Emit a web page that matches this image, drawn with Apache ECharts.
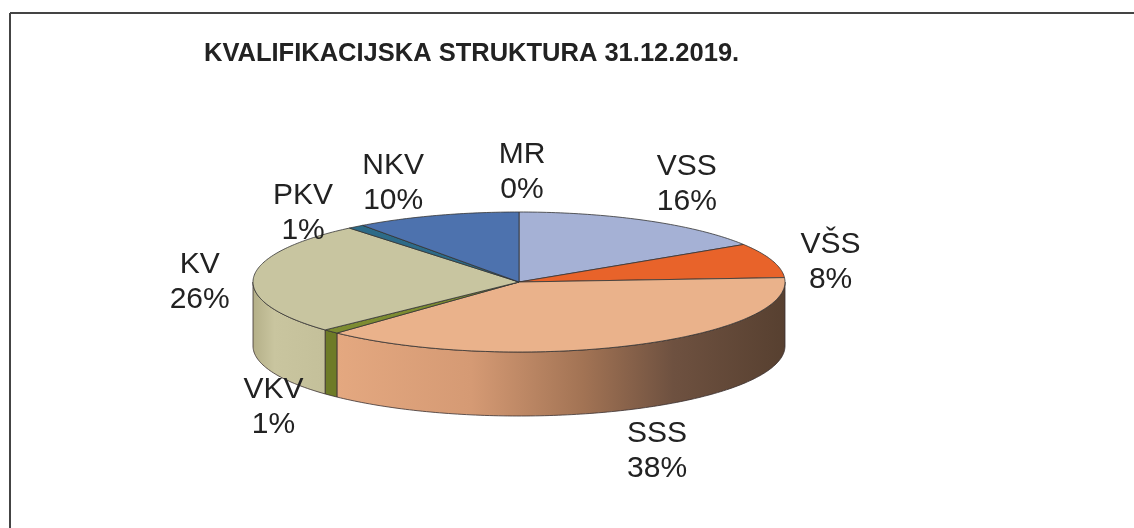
<!DOCTYPE html>
<html>
<head>
<meta charset="utf-8">
<script src="https://cdn.jsdelivr.net/npm/echarts@6/dist/echarts.min.js"></script>
<style>
html,body{margin:0;padding:0;background:#fff;}
#chart{width:1134px;height:528px;}
</style>
</head>
<body>
<div id="chart"></div>
<script>
// ---- data ----
const titleText = 'KVALIFIKACIJSKA STRUKTURA 31.12.2019.';
const categories = ['MR', 'VSS', 'VŠS', 'SSS', 'VKV', 'KV', 'PKV', 'NKV'];
const values = [0, 16, 8, 38, 1, 26, 1, 10];

// ---- styles ----
const topColors = {
  'MR': '#2B4775', 'VSS': '#A5B1D5', 'VŠS': '#E8632A', 'SSS': '#EAB28B',
  'VKV': '#7D8C31', 'KV': '#C8C5A0', 'PKV': '#2D6B88', 'NKV': '#4D72AE'
};
const sideColors = {
  'MR': '#22395E', 'VSS': '#7F8AAA', 'VŠS': '#B54C1F',
  'SSS': {type: 'linear', x: 0, y: 0, x2: 1, y2: 0, colorStops: [
    {offset: 0, color: '#E4A880'}, {offset: 0.3, color: '#D59A74'},
    {offset: 0.55, color: '#A27354'}, {offset: 0.75, color: '#6E5140'},
    {offset: 1, color: '#574030'}]},
  'VKV': '#6E7B27',
  'KV': {type: 'linear', x: 0, y: 0, x2: 1, y2: 0, colorStops: [
    {offset: 0, color: '#B4AF88'}, {offset: 0.3, color: '#C9C59F'},
    {offset: 1, color: '#C4C09A'}]},
  'PKV': '#24566D', 'NKV': '#3D5B8B'
};
const labelNudge = {
  'MR': [3, 5], 'VSS': [6, 3], 'VŠS': [-8, 16], 'SSS': [-5, 1],
  'VKV': [-8, -20], 'KV': [16, 7], 'PKV': [-10, 22], 'NKV': [-22, 11]
};
const geo = {cx: 519, cy: 282, rx: 266, ry: 70, depth: 64, gx: 70, gy: 45};

const total = values.reduce((a, b) => a + b, 0);
const cum = [];
values.reduce((acc, v, i) => { cum[i] = acc; return acc + v; }, 0);

function pt(t, dy) {
  return [geo.cx + geo.rx * Math.sin(t), geo.cy - geo.ry * Math.cos(t) + (dy || 0)];
}
function arc(a0, a1, dy) {
  const pts = [];
  const n = Math.max(1, Math.ceil(Math.abs(a1 - a0) / (Math.PI / 180)));
  for (let k = 0; k <= n; k++) pts.push(pt(a0 + (a1 - a0) * k / n, dy));
  return pts;
}

function renderItem(params, api) {
  const i = params.dataIndex;
  const name = categories[i];
  const v = api.value(1);
  const a0 = cum[i] / total * Math.PI * 2;
  const a1 = a0 + v / total * Math.PI * 2;
  const children = [];
  // side wall (front half only)
  const s0 = Math.max(a0, Math.PI / 2), s1 = Math.min(a1, Math.PI * 1.5);
  if (s1 > s0) {
    const upper = arc(s0, s1, 0);
    const lower = arc(s0, s1, geo.depth).reverse();
    children.push({
      type: 'polygon',
      shape: {points: upper.concat(lower)},
      style: {fill: sideColors[name], stroke: '#3a3030', lineWidth: 0.8}
    });
  }
  // top surface
  const topPts = [[geo.cx, geo.cy]].concat(arc(a0, a1, 0));
  children.push({
    type: 'polygon',
    shape: {points: topPts},
    style: {fill: topColors[name], stroke: v === 0 ? topColors[name] : '#333', lineWidth: v === 0 ? 1.6 : 0.8}
  });
  // label
  const m = (a0 + a1) / 2;
  const front = Math.cos(m) < 0;
  const nd = labelNudge[name] || [0, 0];
  const lx = geo.cx + (geo.rx + geo.gx) * Math.sin(m) + nd[0];
  const ly = geo.cy - (geo.ry + geo.gy) * Math.cos(m) + (front ? geo.depth : 0) + nd[1];
  children.push({
    type: 'text',
    z2: 10,
    style: {
      text: name + '\n' + Math.round(v / total * 100) + '%',
      x: lx, y: ly, align: 'center', verticalAlign: 'middle',
      fontSize: 30, lineHeight: 35, fontFamily: 'Liberation Sans, Arial, sans-serif',
      fill: '#222'
    }
  });
  return {type: 'group', children: children};
}

const chart = echarts.init(document.getElementById('chart'), null, {renderer: 'canvas'});
chart.setOption({
  animation: false,
  backgroundColor: '#fff',
  title: {
    text: titleText, left: 199, top: 36,
    textStyle: {fontSize: 25.5, fontWeight: 'bold', fontFamily: 'Liberation Sans, Arial, sans-serif', color: '#222'}
  },
  graphic: [
    {type: 'line', shape: {x1: 10, y1: 13, x2: 1134, y2: 13}, style: {stroke: '#444', lineWidth: 2}},
    {type: 'line', shape: {x1: 10, y1: 13, x2: 10, y2: 528}, style: {stroke: '#444', lineWidth: 2}}
  ],
  series: [{
    type: 'custom',
    coordinateSystem: 'none',
    renderItem: renderItem,
    data: categories.map((c, i) => ({name: c, value: [i, values[i]]}))
  }]
});
</script>
</body>
</html>
